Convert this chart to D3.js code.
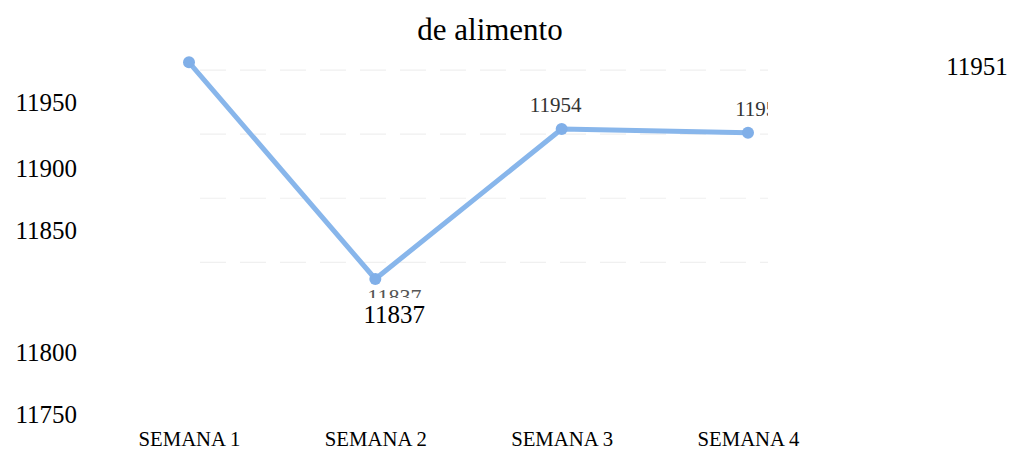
<!DOCTYPE html>
<html>
<head>
<meta charset="utf-8">
<script src="https://cdn.jsdelivr.net/npm/d3@7"></script>
<style>
  body { margin: 0; background: #fff; }
  svg { display: block; }
</style>
</head>
<body>
<div id="chart"></div>
<script>
var weeks = ["SEMANA 1", "SEMANA 2", "SEMANA 3", "SEMANA 4"];
var consumo = [12006, 11837, 11954, 11951];
var yTicks = [11750, 11800, 11850, 11900, 11950];
var gridValues = [11850, 11900, 11950, 12000];
var title = "de alimento";

var width = 1014, height = 452;
var serif = "'Liberation Serif', 'Times New Roman', Times, 'DejaVu Serif', serif";

var svg = d3.select('#chart').append('svg')
    .attr('width', width)
    .attr('height', height)
    .attr('font-family', serif);

// plot scales (the scanned picture)
var x = d3.scalePoint().domain(weeks).range([189, 748]);
var y = d3.scaleLinear().domain([11837, 11954]).range([279, 129]);

// the text labels of the page sit on their own, uneven axis
var yText = d3.scaleLinear().domain(yTicks).range([414, 352, 230, 168, 102]);

// title
svg.append('text')
    .attr('x', 490)
    .attr('y', 40)
    .attr('text-anchor', 'middle')
    .attr('font-size', 31)
    .text(title);

var defs = svg.append('defs');
defs.append('clipPath').attr('id', 'scan')
    .append('rect').attr('x', 150).attr('y', 45).attr('width', 618).attr('height', 300);
defs.append('clipPath').attr('id', 'ghost')
    .append('rect').attr('x', 340).attr('y', 286).attr('width', 110).attr('height', 12);

var scan = svg.append('g').attr('clip-path', 'url(#scan)');

// faint gridlines of the scan
scan.selectAll('.grid')
    .data(gridValues)
  .enter().append('line')
    .attr('class', 'grid')
    .attr('x1', 200)
    .attr('x2', 770)
    .attr('y1', function(d) { return y(d); })
    .attr('y2', function(d) { return y(d); })
    .attr('stroke', '#f0f0f0')
    .attr('stroke-width', 1.2)
    .attr('stroke-dasharray', '26,14');

// line
var line = d3.line()
    .x(function(d, i) { return x(weeks[i]); })
    .y(function(d) { return y(d); });

scan.append('path')
    .datum(consumo)
    .attr('fill', 'none')
    .attr('stroke', '#88b6eb')
    .attr('stroke-width', 5)
    .attr('stroke-linejoin', 'round')
    .attr('stroke-linecap', 'round')
    .attr('d', line);

scan.selectAll('.dot')
    .data(consumo)
  .enter().append('circle')
    .attr('class', 'dot')
    .attr('cx', function(d, i) { return x(weeks[i]); })
    .attr('cy', function(d) { return y(d); })
    .attr('r', 6)
    .attr('fill', '#80afe8');

// scanned data labels (S3, S4)
scan.selectAll('.lbl')
    .data(consumo.slice(2))
  .enter().append('text')
    .attr('class', 'lbl')
    .attr('x', function(d, i) { return x(weeks[i + 2]) + (i === 0 ? -6 : 13); })
    .attr('y', function(d) { return y(d) - 17; })
    .attr('text-anchor', 'middle')
    .attr('fill', '#333')
    .attr('font-size', 21)
    .text(function(d) { return d; });

// ghost of the scanned label under S2
svg.append('text')
    .attr('clip-path', 'url(#ghost)')
    .attr('x', x(weeks[1]) + 19)
    .attr('y', y(consumo[1]) + 25)
    .attr('text-anchor', 'middle')
    .attr('fill', '#555')
    .attr('font-size', 22)
    .text(consumo[1]);

// overlay text labels
svg.append('text')
    .attr('x', x(weeks[1]) + 19)
    .attr('y', y(consumo[1]) + 44)
    .attr('text-anchor', 'middle')
    .attr('font-size', 25)
    .text(consumo[1]);

svg.append('text')
    .attr('x', 977)
    .attr('y', 75)
    .attr('text-anchor', 'middle')
    .attr('font-size', 25)
    .text(consumo[3]);

// y axis
var yAxis = svg.append('g')
    .attr('transform', 'translate(77,0)')
    .call(d3.axisLeft(yText).tickValues(yTicks).tickSize(0).tickPadding(0).tickFormat(d3.format('d')));
yAxis.select('.domain').remove();
yAxis.attr('font-family', serif).attr('font-size', 25);
yAxis.selectAll('text').attr('fill', '#000');

// x axis
var xAxis = svg.append('g')
    .attr('transform', 'translate(0,446)')
    .call(d3.axisBottom(x).tickSize(0).tickPadding(0));
xAxis.select('.domain').remove();
xAxis.attr('font-family', serif).attr('font-size', 21);
xAxis.selectAll('text')
    .attr('y', 0)
    .attr('dy', 0)
    .attr('fill', '#000')
    .attr('textLength', 102)
    .attr('lengthAdjust', 'spacingAndGlyphs');
</script>
</body>
</html>
